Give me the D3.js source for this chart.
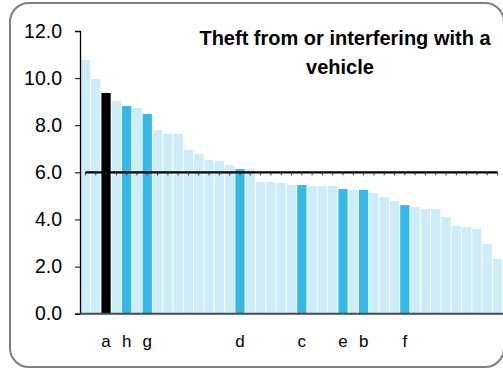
<!DOCTYPE html>
<html>
<head>
<meta charset="utf-8">
<script src="https://cdn.jsdelivr.net/npm/d3@7"></script>
<style>
  html, body { margin: 0; padding: 0; background: #fff; }
  svg { display: block; font-family: "Liberation Sans", Arial, sans-serif; }
</style>
</head>
<body>
<svg id="chart" width="503" height="369"></svg>
<script>
// Rate per area, sorted descending; highlighted areas carry a letter label
const rates = [10.77, 9.96, 9.37, 9.03, 8.82, 8.73, 8.48, 7.80, 7.63, 7.63,
               6.95, 6.78, 6.52, 6.48, 6.31, 6.14, 6.13, 5.59, 5.59, 5.55,
               5.46, 5.46, 5.42, 5.42, 5.42, 5.29, 5.25, 5.25, 5.12, 4.95,
               4.78, 4.61, 4.53, 4.44, 4.44, 4.10, 3.72, 3.68, 3.60, 2.96, 2.32];
const labels = ["", "", "a", "", "h", "", "g", "", "", "",
                "", "", "", "", "", "d", "", "", "", "",
                "", "c", "", "", "", "e", "", "b", "", "",
                "", "f", "", "", "", "", "", "", "", "", ""];
const average = 6.0;
const yTicks = [0, 2, 4, 6, 8, 10, 12];
const titleLines = ["Theft from or interfering with a", "vehicle"];

const svg = d3.select("#chart");

// rounded frame
svg.append("rect")
  .attr("x", 10).attr("y", 3)
  .attr("width", 494).attr("height", 364)
  .attr("rx", 19).attr("ry", 19)
  .attr("fill", "#fff")
  .attr("stroke", "#7f7f7f")
  .attr("stroke-width", 2);

const idx = d3.range(rates.length);
const x = d3.scaleBand().domain(idx).range([80.5, 502.5]).paddingInner(0.1).paddingOuter(0.03);
const y = d3.scaleLinear().domain([0, 12]).range([313.7, 31]);

// bars
svg.append("g").selectAll("rect")
  .data(idx)
  .join("rect")
  .attr("x", i => x(i))
  .attr("y", i => y(rates[i]))
  .attr("width", x.bandwidth())
  .attr("height", i => y(0) - y(rates[i]))
  .attr("fill", i => labels[i] === "a" ? "#000000" : (labels[i] ? "#35b9e9" : "#cdedf9"));

// y axis
const yAxis = svg.append("g")
  .attr("transform", "translate(80,0)")
  .call(d3.axisLeft(y).tickValues(yTicks).tickFormat(d3.format(".1f")).tickSize(5).tickPadding(13));
yAxis.select(".domain").attr("stroke", "#000").attr("stroke-width", 1.3);
yAxis.selectAll(".tick line").attr("stroke", "#000");
yAxis.selectAll(".tick text")
  .attr("fill", "#000")
  .style("font-size", "19.5px")
  .style("font-family", "'Liberation Sans', Arial, sans-serif");

// baseline
svg.append("line")
  .attr("x1", 80).attr("x2", 503)
  .attr("y1", y(0)).attr("y2", y(0))
  .attr("stroke", "#454b52").attr("stroke-width", 2);

// category labels
svg.append("g").selectAll("text")
  .data(idx.filter(i => labels[i]))
  .join("text")
  .attr("x", i => x(i) + x.bandwidth() / 2)
  .attr("y", 347)
  .attr("text-anchor", "middle")
  .style("font-size", "17px")
  .attr("fill", "#000")
  .text(i => labels[i]);

// average line with small markers
const cx = i => x(i) + x.bandwidth() / 2;
svg.append("line")
  .attr("x1", cx(0)).attr("x2", cx(rates.length - 1))
  .attr("y1", y(average)).attr("y2", y(average))
  .attr("stroke", "#000").attr("stroke-width", 2.2);
svg.append("g").selectAll("line")
  .data(idx)
  .join("line")
  .attr("x1", cx).attr("x2", cx)
  .attr("y1", y(average)).attr("y2", y(average) + 3)
  .attr("stroke", "#333").attr("stroke-width", 1);

// title (second line sits slightly left, as wrapped text)
svg.append("g").selectAll("text")
  .data(titleLines)
  .join("text")
  .attr("x", (d, i) => i === 0 ? 345 : 340)
  .attr("y", (d, i) => 45 + i * 29)
  .attr("text-anchor", "middle")
  .style("font-size", "20px")
  .style("font-weight", "bold")
  .attr("fill", "#000")
  .text(d => d);
</script>
</body>
</html>
